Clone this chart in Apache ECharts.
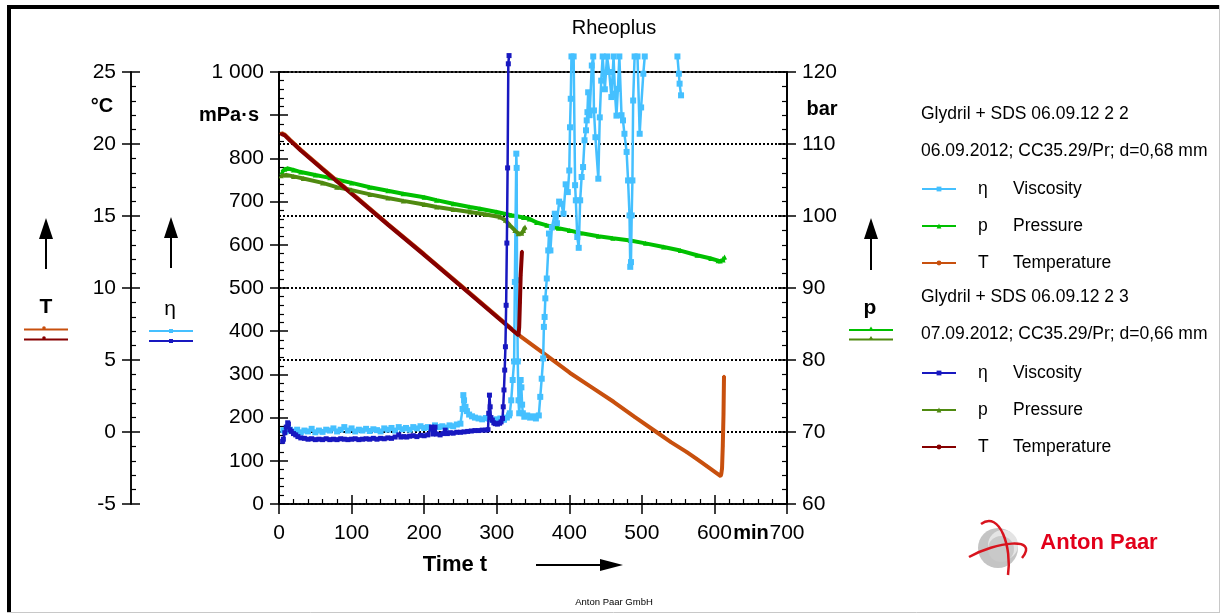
<!DOCTYPE html>
<html><head><meta charset="utf-8">
<script src="https://cdn.jsdelivr.net/npm/echarts@6/dist/echarts.min.js"></script>
<style>html,body{margin:0;padding:0;background:#fff}#c{width:1220px;height:614px}</style>
</head><body><div id="c"></div>
<script>
// ---------- data (time in min) ----------
// Measurement "Glydril + SDS 06.09.12 2 2"
const etaA = [[6,171],[9,168],[12,176],[15,172],[20,168],[25,172],[30,166],[35,170],[40,168],[45,174],[50,166],[55,170],[60,167],[65,172],[70,170],[75,175],[80,168],[85,172],[90,178],[95,170],[100,175],[105,168],[110,172],[115,170],[120,174],[125,169],[130,173],[135,171],[140,168],[145,175],[150,172],[155,176],[160,170],[165,178],[170,173],[175,176],[180,172],[185,178],[190,175],[195,180],[200,176],[205,178],[210,174],[215,182],[220,178],[225,180],[230,177],[235,182],[240,180],[245,184],[250,186],[253,220],[254,252],[255,240],[257,225],[259,215],[262,207],[266,203],[270,200],[275,198],[280,196],[285,199],[290,197],[295,194],[300,196],[305,198],[310,195],[314,200],[317,205],[318,210],[320,240],[322,287],[324,330],[325,514],[327,811],[327.5,778],[328,518],[329,330],[330,240],[331,210],[332,240],[333,287],[334,270],[335,230],[336,210],[338,202],[342,205],[346,200],[350,203],[354,198],[358,205],[360,248],[362,290],[364,337],[365,410],[366,433],[367,476],[369,522],[371,587],[372,626],[374,587],[376,640],[380,672],[383,650],[386,700],[389,695],[392,672],[395,740],[398,722],[400,772],[401,872],[402,938],[403,1036],[406,1036],[408,738],[409,703],[411,618],[413,593],[415,703],[417,757],[419,780],[421,842],[423,865],[424,888],[425,907],[426,953],[428,900],[431,1015],[433,1036],[434,911],[436,849],[440,753],[442,895],[444,980],[446,1036],[449,960],[452,1036],[455,1000],[458,942],[461,1036],[463,950],[465,899],[467,961],[469,1036],[472,900],[474,888],[476,857],[479,815],[481,749],[483,668],[484,549],[485,560],[486,668],[487,749],[488,934],[490,1036],[494,1036],[497,857],[499,918],[502,996],[504,1036],[505,null],[549,1036],[551,996],[552,973],[554,946]];
const pA = [[4,106.1],[8,106.5],[12,106.6],[20,106.4],[30,106.1],[50,105.7],[70,105.3],[80,105.05],[100,104.6],[125,104.0],[150,103.5],[171,103.1],[200,102.6],[217,102.2],[240,101.7],[263,101.25],[277,101.0],[300,100.55],[320,100.1],[337,99.8],[345,99.6],[355,99.1],[369,98.7],[385,98.3],[400,98.0],[415,97.64],[440,97.2],[460,96.9],[484,96.6],[505,96.2],[530,95.7],[553,95.2],[576,94.55],[595,94.1],[605,93.8],[608,93.75],[612,93.9],[614,94.3]];
const TA = [[3,20.75],[8,20.65],[15,20.3],[30,19.6],[60,18.3],[100,16.6],[150,14.45],[200,12.35],[250,10.2],[300,8.05],[330,6.75],[369,5.3],[401,4.1],[431,3.1],[461,2.1],[490,1.05],[520,0.0],[540,-0.7],[562,-1.4],[575,-1.85],[589,-2.35],[600,-2.75],[608.6,-3.06],[609.5,-2.9],[610.5,-2.52],[611.5,-0.98],[612.5,1.22],[613.2,3.88]];
// Measurement "Glydril + SDS 06.09.12 2 3"
const etaB = [[5,145],[6,150],[8,165],[10,178],[12,188],[13,185],[15,172],[17,168],[20,163],[23,160],[26,156],[30,153],[35,152],[40,150],[45,151],[50,149],[55,150],[60,149],[65,151],[70,149],[75,150],[80,149],[85,151],[90,150],[95,149],[100,150],[105,151],[110,149],[115,150],[120,151],[125,150],[130,152],[135,150],[140,152],[145,151],[150,153],[155,152],[160,155],[165,160],[168,155],[172,156],[176,155],[180,157],[185,158],[190,156],[195,159],[200,158],[205,160],[210,178],[212,162],[215,178],[217,162],[222,160],[226,163],[229,171],[232,163],[236,165],[240,164],[245,166],[250,166],[255,167],[260,168],[265,169],[270,170],[275,170],[280,171],[285,171],[288,172],[289,210],[290,252],[291,225],[292,200],[294,194],[296,188],[298,186],[301,185],[304,187],[306,190],[308,198],[309,225],[310,264],[311,310],[312,364],[313,460],[314,604],[315,778],[316,1019],[317,1038]];
const pB = [[3,105.6],[10,105.7],[20,105.5],[33.5,105.2],[60,104.6],[79.5,104.0],[100,103.6],[125.4,103.0],[150,102.5],[171.3,102.1],[200,101.6],[217.3,101.25],[240,100.9],[263.2,100.55],[285,100.2],[304.5,99.86],[312,99.4],[318.3,98.7],[325,98.0],[329.8,97.55],[334.4,97.6],[337,98.0],[339,98.47]];
const TB = [[3,20.7],[8,20.6],[15,20.25],[30,19.55],[60,18.25],[100,16.55],[150,14.4],[200,12.3],[250,10.15],[300,8.0],[330,6.72],[331,7.29],[332,8.99],[333,10.86],[334.8,12.55]];

// axis ranges / tick labels
const timeRange = [0, 700, 100];
const viscRange = [0, 1000, 100];
const tempRange = [-5, 25, 5];
const presRange = [60, 120, 10];
const viscHidden = [900];   // label replaced by the unit "mPa·s"

const headers = ['Glydril + SDS 06.09.12 2 2', '06.09.2012; CC35.29/Pr; d=0,68 mm', 'Glydril + SDS 06.09.12 2 3', '07.09.2012; CC35.29/Pr; d=0,66 mm'];
const legendSym = {eta:'η', p:'p', T:'T'};
const legendLbl = {eta:'Viscosity', p:'Pressure', T:'Temperature'};

// ---------- chart ----------
const FF = '"Liberation Sans", Arial, sans-serif';
const C = {etaA:'#45C0FF', pA:'#00C000', TA:'#C8500E', etaB:'#1818C0', pB:'#4F8A10', TB:'#860000'};

function mk(name, key, data, yIdx, lw, sym, ss, z) {
  return {name, type:'line', data, xAxisIndex:0, yAxisIndex:yIdx, clip:false, connectNulls:false,
    symbol:sym, symbolSize:ss, showSymbol:true, animation:false, z,
    lineStyle:{color:C[key], width:lw}, itemStyle:{color:C[key]}, emphasis:{disabled:true}};
}
const series = [
  mk('eta|A','etaA',etaA,0,2.5,'rect',6,3),
  mk('p|A','pA',pA,2,4,'triangle',5,2),
  mk('T|A','TA',TA,1,4,'circle',3,2),
  mk('p|B','pB',pB,2,4,'triangle',5,4),
  mk('T|B','TB',TB,1,4,'circle',3,4),
  mk('eta|B','etaB',etaB,0,2.5,'rect',5,5)
];

function yAx(r, offset, pos, inside, labels, extra) {
  return Object.assign({type:'value', position:pos, offset, min:r[0], max:r[1], interval:r[2],
    axisLine:{show:true, onZero:false, lineStyle:{color:'#000', width:1.5}},
    axisTick:{show:true, inside, length:9, lineStyle:{color:'#000', width:1.5}},
    minorTick:{show:inside, splitNumber:5, length:5, lineStyle:{color:'#000', width:1.2}},
    axisLabel:{show:labels, fontSize:21, fontFamily:FF, color:'#000', margin:15,
      formatter: v => (r === viscRange && viscHidden.includes(v)) ? '' : (v === 1000 ? '1 000' : String(v))},
    splitLine:{show:false}}, extra || {});
}

const legendFmt = name => {
  const k = name.split('|')[0];
  return '{g|}{s|' + legendSym[k] + '}{n|' + legendLbl[k] + '}';
};
const LF = 17.5;
const legendText = {color:'#000', fontFamily:FF, fontSize:LF, lineHeight:18,
  rich:{g:{width:17, height:18}, s:{width:35, fontSize:LF, fontFamily:FF, lineHeight:18}, n:{fontSize:LF, fontFamily:FF, lineHeight:18}}};
function lg(top, names) {
  return {orient:'vertical', left:921, top, itemWidth:34, itemHeight:6, itemGap:19,
    data:names, formatter:legendFmt, textStyle:legendText, selectedMode:false, lineStyle:{width:2}, padding:0};
}

// graphics
const g = [];
const txt = (text, x, y, font, align, fill) => g.push({type:'text', silent:true, style:{text, x, y, font, fill: fill || '#000', align: align || 'center', verticalAlign:'middle'}});
const ln = (x1,y1,x2,y2,stroke,w) => g.push({type:'line', silent:true, shape:{x1,y1,x2,y2}, style:{stroke, lineWidth:w}});
const upArrow = (x, tip, bottom) => {
  g.push({type:'polygon', silent:true, shape:{points:[[x,tip],[x-7,tip+21],[x+7,tip+21]]}, style:{fill:'#000'}});
  ln(x, tip+20, x, bottom, '#000', 2);
};
// frame
g.push({type:'rect', silent:true, shape:{x:7,y:5,width:1212,height:4}, style:{fill:'#000'}});
g.push({type:'rect', silent:true, shape:{x:7,y:5,width:4,height:608}, style:{fill:'#000'}});
ln(1219.5,5,1219.5,613,'#c8c8c8',1);
ln(7,612.5,1220,612.5,'#c8c8c8',1);
// titles & units
txt('Rheoplus', 614, 28, '20px ' + FF);
txt('°C', 102, 106, 'bold 20px ' + FF);
txt('mPa·s', 229, 115, 'bold 20px ' + FF);
txt('bar', 822, 109, 'bold 20px ' + FF);
txt('min', 751, 533, 'bold 20px ' + FF);
txt('Time t', 455, 565, 'bold 22px ' + FF);
txt('Anton Paar GmbH', 614, 602, '9.5px ' + FF);
// arrows
upArrow(46, 218, 269);
upArrow(171, 217, 268);
upArrow(871, 218, 270);
ln(536, 565, 602, 565, '#000', 2);
g.push({type:'polygon', silent:true, shape:{points:[[623,565],[600,559],[600,571]]}, style:{fill:'#000'}});
// axis quantity symbols with mini legends
txt('T', 46, 307, 'bold 21px ' + FF);
txt('η', 170, 309, '21px ' + FF);
txt('p', 870, 308, 'bold 21px ' + FF);
ln(24,329.5,68,329.5,C.TA,2); g.push({type:'circle', silent:true, shape:{cx:44,cy:328,r:1.8}, style:{fill:C.TA}});
ln(24,339.5,68,339.5,C.TB,2); g.push({type:'circle', silent:true, shape:{cx:44,cy:338,r:1.8}, style:{fill:C.TB}});
ln(149,331,193,331,C.etaA,2); g.push({type:'rect', silent:true, shape:{x:169,y:329,width:4,height:4}, style:{fill:C.etaA}});
ln(149,341,193,341,C.etaB,2); g.push({type:'rect', silent:true, shape:{x:169,y:339,width:4,height:4}, style:{fill:C.etaB}});
ln(849,330,893,330,C.pA,2); g.push({type:'polygon', silent:true, shape:{points:[[871,326.5],[868.5,330.5],[873.5,330.5]]}, style:{fill:C.pA}});
ln(849,339.5,893,339.5,C.pB,2); g.push({type:'polygon', silent:true, shape:{points:[[871,336],[868.5,340],[873.5,340]]}, style:{fill:C.pB}});
// legend headers
txt(headers[0], 921, 114, LF + 'px ' + FF, 'left');
txt(headers[1], 921, 151, LF + 'px ' + FF, 'left');
txt(headers[2], 921, 297, LF + 'px ' + FF, 'left');
txt(headers[3], 921, 334, LF + 'px ' + FF, 'left');
// logo
g.push({type:'circle', silent:true, shape:{cx:998,cy:548,r:20}, style:{fill:'#c4c4c4'}});
g.push({type:'circle', silent:true, shape:{cx:1003,cy:545,r:15}, style:{fill:'#e4e4e4'}});
g.push({type:'circle', silent:true, shape:{cx:1001,cy:549,r:13}, style:{fill:'#c9c9c9'}});
g.push({type:'bezierCurve', silent:true, shape:{x1:981,y1:524,cpx1:1000,cpy1:510,cpx2:1012,cpy2:548,x2:1008,y2:575}, style:{stroke:'#d8141e', lineWidth:2.5, fill:null}});
g.push({type:'bezierCurve', silent:true, shape:{x1:969,y1:557,cpx1:995,cpy1:542,cpx2:1040,cpy2:536,x2:1022,y2:558}, style:{stroke:'#d8141e', lineWidth:2.5, fill:null}});
txt('Anton Paar', 1099, 543, 'bold 22px ' + FF, 'center', '#e2001a');

const option = {
  animation:false,
  backgroundColor:'#fff',
  textStyle:{fontFamily:FF},
  grid:{left:279, top:72, width:508, height:432, show:true, borderColor:'#000', borderWidth:1.5, containLabel:false},
  xAxis:[
    {type:'value', position:'bottom', min:timeRange[0], max:timeRange[1], interval:timeRange[2],
      axisLine:{onZero:false, lineStyle:{color:'#000', width:1.5}},
      axisTick:{inside:true, length:9, lineStyle:{color:'#000', width:1.5}},
      minorTick:{show:true, splitNumber:5, length:5, lineStyle:{color:'#000', width:1.2}},
      axisLabel:{fontSize:21, fontFamily:FF, color:'#000', margin:19},
      splitLine:{show:false}},
    {type:'value', position:'bottom', min:timeRange[0], max:timeRange[1], interval:timeRange[2],
      axisLine:{show:false, onZero:false}, axisTick:{inside:false, length:10, lineStyle:{color:'#000', width:1.5}},
      axisLabel:{show:false}, splitLine:{show:false}}
  ],
  yAxis:[
    yAx(viscRange, 0, 'left', true, true),
    yAx(tempRange, 148, 'left', true, true),
    yAx(presRange, 0, 'right', true, true, {splitLine:{show:true, lineStyle:{color:'#000', width:2, type:[2,2]}}}),
    yAx(viscRange, 0, 'left', false, false),
    yAx(tempRange, 148, 'left', false, false),
    yAx(presRange, 0, 'right', false, false)
  ],
  legend:[ lg(180, ['eta|A','p|A','T|A']), lg(364, ['eta|B','p|B','T|B']) ],
  graphic:g,
  series
};
const chart = echarts.init(document.getElementById('c'), null, {renderer:'canvas'});
chart.setOption(option);
</script></body></html>
